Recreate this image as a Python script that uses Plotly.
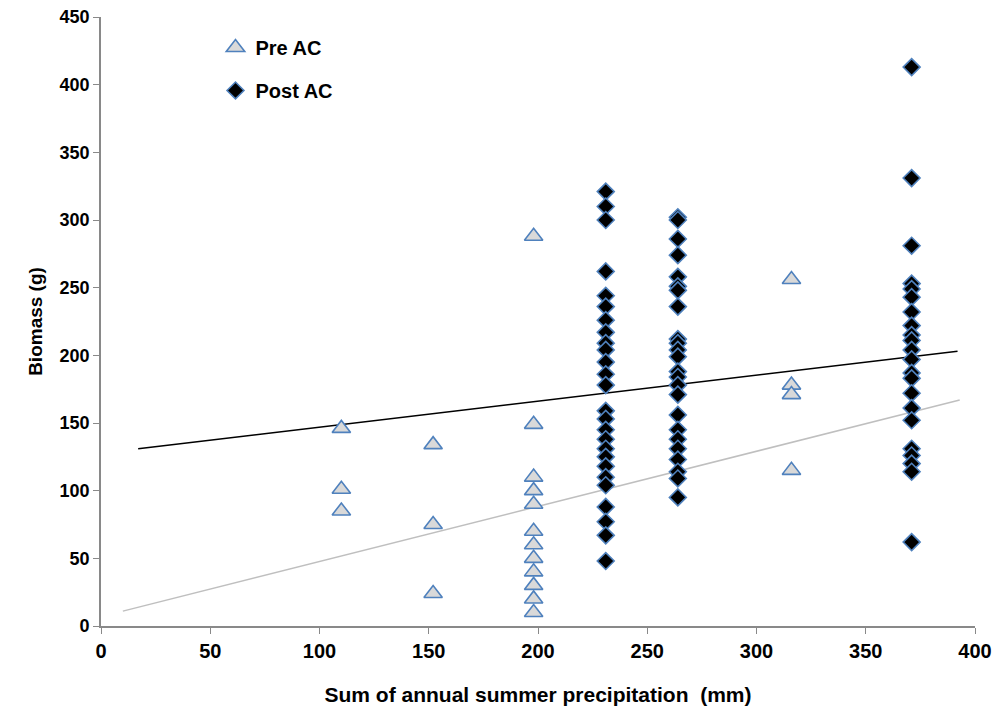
import plotly.graph_objects as go

# Pre AC data (x = precipitation mm, y = biomass g)
pre_x = [110, 110, 110, 152, 152, 152,
         198, 198, 198, 198, 198, 198, 198, 198, 198, 198, 198, 198,
         316, 316, 316, 316]
pre_y = [146, 101, 85, 134, 75, 24,
         288, 149, 110, 100, 90, 70, 60, 50, 40, 30, 20, 10,
         256, 178, 171, 115]

# Post AC data
post_x_231 = [231] * 26
post_y_231 = [321, 310, 300, 262, 244, 236, 226, 217, 209, 204, 195, 186, 178,
              159, 153, 145, 138, 131, 125, 118, 110, 104, 88, 77, 67, 48]
post_x_264 = [264] * 24
post_y_264 = [302, 300, 286, 274, 258, 251, 248, 236, 212, 209, 204, 199, 188,
              184, 178, 171, 156, 145, 138, 131, 123, 114, 109, 95]
post_x_371 = [371] * 22
post_y_371 = [413, 331, 281, 253, 249, 243, 232, 222, 215, 211, 204, 197, 187,
              183, 172, 161, 152, 131, 126, 120, 114, 62]
post_x = post_x_231 + post_x_264 + post_x_371
post_y = post_y_231 + post_y_264 + post_y_371

# Trend lines (endpoints)
trend_pre_x = [10, 393]
trend_pre_y = [11, 167]
trend_post_x = [17, 392]
trend_post_y = [131, 203]

x_ticks = [0, 50, 100, 150, 200, 250, 300, 350, 400]
y_ticks = [0, 50, 100, 150, 200, 250, 300, 350, 400, 450]

fig = go.Figure()
fig.add_trace(go.Scatter(x=trend_pre_x, y=trend_pre_y, mode="lines",
                         line=dict(color="#bfbfbf", width=1.5), showlegend=False,
                         hoverinfo="skip"))
fig.add_trace(go.Scatter(x=trend_post_x, y=trend_post_y, mode="lines",
                         line=dict(color="#000000", width=1.5), showlegend=False,
                         hoverinfo="skip"))
fig.add_trace(go.Scatter(x=pre_x, y=pre_y, mode="markers", name="Pre AC",
                         legendgroup="a",
                         marker=dict(symbol="triangle-up", size=16, color="#d9d9d9",
                                     line=dict(color="#4f81bd", width=1.6))))
fig.add_trace(go.Scatter(x=post_x, y=post_y, mode="markers", name="Post AC",
                         legendgroup="b",
                         marker=dict(symbol="diamond", size=13, color="#000000",
                                     line=dict(color="#4f81bd", width=1.6))))

narrow = "Liberation Sans Narrow, Arial Narrow, Liberation Sans"
regular = "Liberation Sans, Arial, sans-serif"
fig.update_layout(
    width=993, height=717,
    margin=dict(l=101, r=18, t=17, b=91),
    paper_bgcolor="white", plot_bgcolor="white",
    font=dict(family=regular, color="#000000"),
    showlegend=True,
    legend=dict(x=0.131, y=0.982, xanchor="left", yanchor="top",
                bgcolor="rgba(0,0,0,0)", tracegroupgap=14,
                font=dict(family=regular, size=20, color="#000000", weight="bold"),
                itemwidth=30),
    xaxis=dict(range=[0, 400], tickvals=x_ticks, ticktext=[str(v) for v in x_ticks],
               automargin=False,
               showgrid=False, zeroline=False, showline=True, linecolor="#898989",
               linewidth=1.8, ticks="outside", ticklen=6, tickcolor="#898989",
               tickfont=dict(family=narrow, size=20, color="#000000", weight="bold"),
               title=dict(text="Sum of annual summer precipitation  (mm)",
                          font=dict(family=narrow, size=21, color="#000000", weight="bold"),
                          standoff=26)),
    yaxis=dict(range=[0, 450], tickvals=y_ticks, ticktext=[str(v) for v in y_ticks],
               automargin=False,
               showgrid=False, zeroline=False, showline=True, linecolor="#898989",
               linewidth=1.8, ticks="outside", ticklen=6, tickcolor="#898989",
               tickfont=dict(family=regular, size=18, color="#000000", weight="bold"),
               title=dict(text="Biomass (g)",
                          font=dict(family=narrow, size=19, color="#000000", weight="bold"),
                          standoff=12)),
)

fig.write_html("out.html")
